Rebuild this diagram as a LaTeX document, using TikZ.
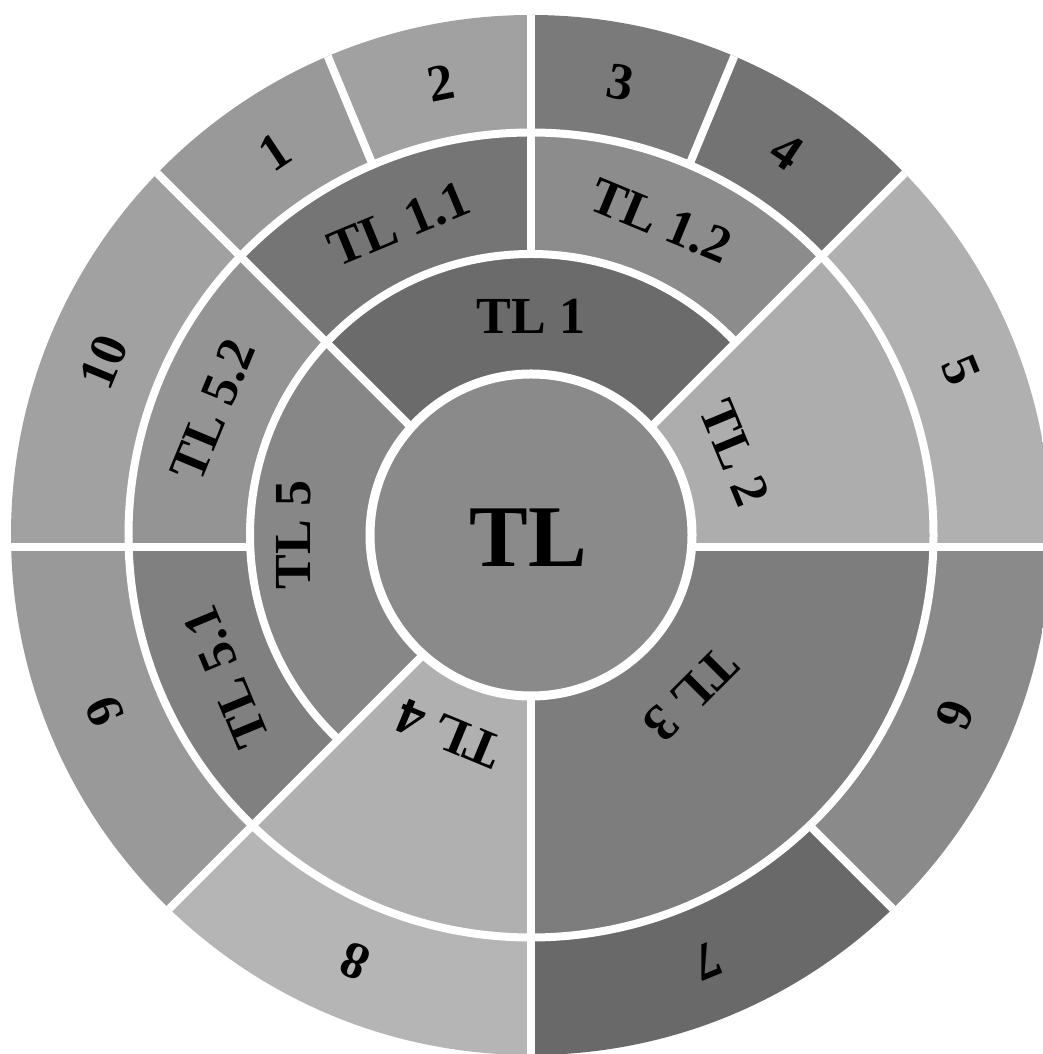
\documentclass[tikz,border=0pt]{standalone}
\usepackage{fontspec}
\setmainfont{Liberation Serif}
\definecolor{cctr}{gray}{0.54}
\definecolor{cA}{gray}{0.42}
\definecolor{cB}{gray}{0.68}
\definecolor{cC}{gray}{0.49}
\definecolor{cD}{gray}{0.69}
\definecolor{cE}{gray}{0.53}
\definecolor{cAa}{gray}{0.46}
\definecolor{cAb}{gray}{0.55}
\definecolor{cEa}{gray}{0.50}
\definecolor{cEb}{gray}{0.58}
\definecolor{oa}{gray}{0.60}
\definecolor{ob}{gray}{0.63}
\definecolor{oc}{gray}{0.48}
\definecolor{od}{gray}{0.45}
\definecolor{oe}{gray}{0.69}
\definecolor{of}{gray}{0.54}
\definecolor{og}{gray}{0.41}
\definecolor{oh}{gray}{0.71}
\definecolor{oi}{gray}{0.60}
\definecolor{oj}{gray}{0.63}
\begin{document}
\begin{tikzpicture}[x=1pt,y=1pt,
  sep/.style={white,line width=8pt},
  lab/.style={font=\fontsize{52}{56}\selectfont\bfseries,text=black,inner sep=0pt},
  ctrlab/.style={font=\fontsize{88}{96}\selectfont\bfseries,text=black,inner sep=0pt}]
\useasboundingbox (0,0) rectangle (1043,1054);
\fill[white] (0,0) rectangle (1043,1054);
\coordinate (C) at (531,519);
\coordinate (S) at (531,507);
\def\wedge#1#2#3{\fill[#1] (S) -- ++(#2:900) arc[start angle=#2,end angle=#3,radius=900] -- cycle;}
% outer ring
\begin{scope}
\clip (C) circle[radius=520];
\wedge{oa}{112.5}{135}
\wedge{ob}{90}{112.5}
\wedge{oc}{67.5}{90}
\wedge{od}{45}{67.5}
\wedge{oe}{0}{45}
\wedge{of}{-45}{0}
\wedge{og}{-90}{-45}
\wedge{oh}{-135}{-90}
\wedge{oi}{-180}{-135}
\wedge{oj}{135}{180}
\draw[sep] (S) -- ++(67.5:900);
\draw[sep] (S) -- ++(112.5:900);
\draw[sep] (S) -- ++(-45:900);
\end{scope}
% second ring
\begin{scope}
\clip (C) circle[radius=402.5];
\wedge{cAa}{90}{135}
\wedge{cAb}{45}{90}
\wedge{cB}{0}{45}
\wedge{cC}{-90}{0}
\wedge{cD}{-135}{-90}
\wedge{cEa}{180}{225}
\wedge{cEb}{135}{180}
\end{scope}
\begin{scope}
\clip (C) circle[radius=520];
\draw[sep] (S) -- ++(90:900);
\draw[sep] (S) -- ++(180:900);
\end{scope}
% first ring
\begin{scope}
\clip (C) circle[radius=281];
\wedge{cA}{45}{135}
\wedge{cE}{135}{225}
\end{scope}
\begin{scope}
\clip (C) circle[radius=520];
\draw[sep] (S) -- ++(0:900);
\draw[sep] (S) -- ++(45:900);
\draw[sep] (S) -- ++(135:900);
\draw[sep] (S) -- ++(225:900);
\draw[sep] (S) -- ++(270:900);
\end{scope}
\draw[sep] (C) circle[radius=402.5];
\begin{scope}
\clip (S) -- ++(45:900) arc[start angle=45,end angle=225,radius=900] -- cycle;
\draw[sep] (C) circle[radius=281];
\end{scope}
\fill[cctr] (C) circle[radius=161];
\draw[white,line width=9pt] (C) circle[radius=161];
% labels
\node[ctrlab] (tl) at ([shift={(-3,-3)}]C) {TL};
\node[lab,rotate=0] (tl1) at ([shift={(90:219)}]C) {TL 1};
\node[lab,rotate=-67.5] (tl2) at ([shift={(22:220)}]C) {TL 2};
\node[lab,rotate=-135] (tl3) at ([shift={(-45:226)}]C) {TL 3};
\node[lab,rotate=157.5] (tl4) at ([shift={(-112.5:215)}]C) {TL 4};
\node[lab,rotate=90] (tl5) at ([shift={(180:237)}]C) {TL 5};
\node[lab,rotate=22.5] (tl11) at ([shift={(113:338)}]C) {TL 1.1};
\node[lab,rotate=-22.5] (tl12) at ([shift={(67.5:340)}]C) {TL 1.2};
\node[lab,rotate=112.5] (tl51) at ([shift={(205:336)}]C) {TL 5.1};
\node[lab,rotate=67.5] (tl52) at ([shift={(158.5:342)}]C) {TL 5.2};
\node[lab,rotate=33.75] (n1) at ([shift={(123.75:461)}]C) {1};
\node[lab,rotate=11.25] (n2) at ([shift={(101.25:461)}]C) {2};
\node[lab,rotate=-11.25] (n3) at ([shift={(78.75:461)}]C) {3};
\node[lab,rotate=-33.75] (n4) at ([shift={(56.25:461)}]C) {4};
\node[lab,rotate=-67.5] (n5) at ([shift={(21:461)}]C) {5};
\node[lab,rotate=-112.5] (n6) at ([shift={(-23:461)}]C) {6};
\node[lab,rotate=-157.5] (n7) at ([shift={(-67.5:461)}]C) {7};
\node[lab,rotate=157.5] (n8) at ([shift={(-112.5:461)}]C) {8};
\node[lab,rotate=112.5] (n9) at ([shift={(-157.5:461)}]C) {9};
\node[lab,rotate=67.5] (n10) at ([shift={(158:461)}]C) {10};
\end{tikzpicture}
\end{document}
